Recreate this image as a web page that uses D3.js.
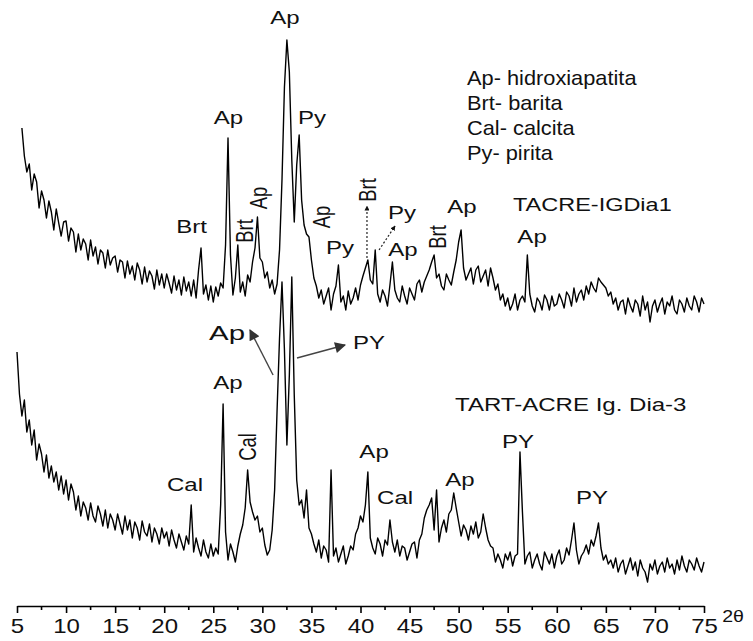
<!DOCTYPE html>
<html>
<head>
<meta charset="utf-8">
<script src="https://d3js.org/d3.v7.min.js"></script>
<style>
  body { margin: 0; background: #fff; }
  text { font-family: "Liberation Sans", Arial, sans-serif; fill: #111; }
  .trace { fill: none; stroke: #000; stroke-width: 1.4px; stroke-linejoin: round; }
  .axis path, .axis line { stroke: #000; stroke-width: 1.6px; }
</style>
</head>
<body>
<div id="chart"></div>
<script>
// 2theta grid of the scans
const step = 0.25;
const topStart = 5.5;     // TACRE-IGDia1
const bottomStart = 5;    // TART-ACRE Ig. Dia-3
const stackOffset = 260;  // vertical shift of the upper pattern (counts)

// intensities (a.u.), one row per 5 degrees
const topCounts = [
  212,184,168,176,150,166,158,132,149,140,122,139,128,110,131,117,104,118,
  119,99,112,108,88,106,90,101,96,80,100,84,93,76,90,87,72,90,75,82,
  84,68,80,78,62,79,66,74,60,77,70,56,73,58,69,64,51,70,55,66,
  52,66,57,47,64,50,60,45,63,49,58,44,60,42,70,92,46,55,40,54,
  38,53,44,57,52,95,202,85,45,62,95,48,58,44,65,58,78,92,123,82,
  78,62,68,52,60,46,56,90,160,253,300,268,180,118,175,205,140,115,106,103,
  80,62,54,42,50,36,44,52,30,46,54,75,38,44,30,49,36,42,52,40,
  55,64,72,80,60,56,90,46,38,50,44,34,55,78,50,42,38,54,44,36,
  52,46,40,56,60,48,58,64,70,78,85,62,66,54,50,66,60,55,68,80,
  98,110,72,60,66,72,56,70,74,58,64,70,54,72,62,50,56,40,46,34,
  42,30,36,46,30,40,44,38,85,46,34,28,42,38,30,45,40,30,44,34,
  36,46,40,32,48,44,34,52,38,46,50,40,54,46,58,52,48,62,58,55,
  52,44,48,36,42,30,38,40,26,42,34,28,40,36,24,44,30,38,18,34,
  40,28,36,42,26,38,34,44,30,26,40,36,28,42,34,30,44,38,28,42,
  36
];

const bottomCounts = [
  248,206,184,200,168,180,155,170,140,156,146,128,145,122,134,118,128,110,124,106,
  120,100,116,108,90,104,84,98,92,80,97,84,78,94,86,74,90,72,86,80,
  70,86,76,66,84,70,80,62,78,72,60,79,68,64,76,58,72,66,56,72,
  62,68,54,70,60,52,66,58,50,64,56,95,48,62,52,44,60,48,42,56,
  44,52,46,95,196,68,40,56,48,38,54,66,75,92,130,98,88,80,84,68,
  72,55,45,50,70,110,190,262,318,250,155,225,323,205,120,95,100,82,110,72,
  66,56,48,60,42,54,50,38,130,44,52,38,46,54,36,44,54,50,66,72,
  84,78,95,128,62,52,46,62,56,44,60,55,80,58,48,60,44,54,52,40,
  48,56,58,42,60,66,82,90,95,102,70,110,58,72,80,68,86,90,107,92,
  78,64,75,70,60,74,66,78,62,68,86,72,60,54,52,38,46,40,32,46,
  40,48,34,44,46,148,88,36,44,48,32,40,46,36,30,48,42,36,46,32,
  44,50,36,40,52,45,60,77,50,36,44,48,55,46,60,54,64,77,52,40,
  45,36,40,32,42,28,36,40,26,34,42,30,38,24,40,32,28,18,36,30,
  40,26,34,38,28,42,32,36,26,40,30,44,34,28,40,36,30,42,34,28,
  38
];

const majorTicks = d3.range(5, 76, 5);
const minorTicks = d3.range(7.5, 75, 5);

const legendLines = ["Ap- hidroxiapatita", "Brt- barita", "Cal- calcita", "Py- pirita"];

// peak labels: [text, 2theta, y px, rotated]
const topLabels = [
  ["Ap", 32.31, 24, false],
  ["Ap", 26.55, 124, false],
  ["Py", 35.06, 124, false],
  ["Brt", 22.78, 233, false],
  ["Brt", 28.13, 231, true],
  ["Ap", 29.56, 198, true],
  ["Ap", 35.98, 217, true],
  ["Py", 37.91, 254, false],
  ["Brt", 40.66, 190, true],
  ["Py", 44.23, 219, false],
  ["Ap", 44.33, 256, false],
  ["Brt", 47.80, 237, true],
  ["Ap", 50.34, 213, false],
  ["Ap", 57.48, 243, false]
];
const bottomLabels = [
  ["PY", 40.87, 349, false],
  ["Ap", 26.50, 389, false],
  ["Cal", 28.44, 447, true],
  ["Cal", 22.12, 491, false],
  ["Ap", 41.38, 458, false],
  ["Cal", 43.52, 504, false],
  ["Ap", 50.14, 486, false],
  ["PY", 56.05, 448, false],
  ["PY", 63.59, 504, false]
];

const width = 753, height = 641;
const x = d3.scaleLinear().domain([5, 75]).range([17, 704]);
const y = d3.scaleLinear().domain([0, 600]).range([600, 0]);

const svg = d3.select('#chart').append('svg')
  .attr('width', width)
  .attr('height', height);

const defs = svg.append('defs');
defs.append('marker').attr('id', 'headSmall')
  .attr('viewBox', '0 0 10 10').attr('refX', 9).attr('refY', 5)
  .attr('markerWidth', 5).attr('markerHeight', 5).attr('markerUnits', 'userSpaceOnUse')
  .attr('orient', 'auto')
  .append('path').attr('d', 'M0,0L10,5L0,10z').attr('fill', '#111');
defs.append('marker').attr('id', 'headBig')
  .attr('viewBox', '0 0 10 10').attr('refX', 9).attr('refY', 5)
  .attr('markerWidth', 14).attr('markerHeight', 11).attr('markerUnits', 'userSpaceOnUse')
  .attr('orient', 'auto')
  .append('path').attr('d', 'M0,0L10,5L0,10z').attr('fill', '#333');

// patterns
function trace(start, counts, offset) {
  return d3.line()
    .x((d, i) => x(start + i * step))
    .y(d => y(d + offset))(counts);
}
svg.append('path').attr('class', 'trace').attr('d', trace(topStart, topCounts, stackOffset));
svg.append('path').attr('class', 'trace').attr('d', trace(bottomStart, bottomCounts, 0));

// axis
const axisY = 606;
const axis = svg.append('g').attr('class', 'axis')
  .attr('transform', `translate(0,${axisY})`)
  .call(d3.axisBottom(x).tickValues(majorTicks).tickSize(7).tickSizeOuter(0).tickPadding(6));
axis.selectAll('text')
  .style('font-size', '20px')
  .attr('fill', '#111')
  .attr('transform', 'scale(1.2,1)');
axis.selectAll('.minor').data(minorTicks).enter().append('line')
  .attr('class', 'minor')
  .attr('x1', d => x(d)).attr('x2', d => x(d))
  .attr('y1', 0).attr('y2', 4)
  .attr('stroke', '#000').attr('stroke-width', 1.6);
svg.append('text')
  .attr('transform', `translate(${x(75) + 29},${axisY + 16}) scale(1.15,1)`)
  .attr('text-anchor', 'middle')
  .style('font-size', '17px')
  .text('2θ');

// text helper: horizontally stretched like the original figure
function label(txt, px, py, opt) {
  const o = Object.assign({ size: 18.5, sx: 1.3, rot: false, anchor: 'middle', fill: '#111' }, opt);
  svg.append('text')
    .attr('transform', `translate(${px},${py}) scale(${o.sx},1)` + (o.rot ? ' rotate(-90)' : ''))
    .attr('text-anchor', o.anchor)
    .attr('dy', o.rot ? '0.36em' : 0)
    .attr('fill', o.fill)
    .style('font-size', o.size + 'px')
    .text(txt);
}

topLabels.concat(bottomLabels).forEach(d => label(d[0], x(d[1]), d[2], { rot: d[3] }));

label('TACRE-IGDia1', x(55.54), 211, { anchor: 'start', sx: 1.27 });
label('TART-ACRE Ig. Dia-3', x(49.63), 411, { anchor: 'start', sx: 1.3 });
label('Ap', x(26.40), 340, { size: 21, sx: 1.4 });

legendLines.forEach((t, i) => label(t, x(50.85), 85 + i * 25, { anchor: 'start', size: 20, sx: 1.09, fill: '#2a2a2a' }));

// arrows
svg.append('line')
  .attr('x1', x(40.66)).attr('y1', 258).attr('x2', x(40.66)).attr('y2', 206)
  .attr('stroke', '#222').attr('stroke-width', 1.2).attr('stroke-dasharray', '2,2')
  .attr('marker-end', 'url(#headSmall)');
svg.append('line')
  .attr('x1', x(41.89)).attr('y1', 250).attr('x2', x(43.52)).attr('y2', 226)
  .attr('stroke', '#222').attr('stroke-width', 1.2).attr('stroke-dasharray', '2,2')
  .attr('marker-end', 'url(#headSmall)');
svg.append('line')
  .attr('x1', x(31.09)).attr('y1', 375).attr('x2', x(28.74)).attr('y2', 330)
  .attr('stroke', '#444').attr('stroke-width', 1.4)
  .attr('marker-end', 'url(#headBig)');
svg.append('line')
  .attr('x1', x(33.53)).attr('y1', 358).attr('x2', x(38.42)).attr('y2', 345)
  .attr('stroke', '#444').attr('stroke-width', 1.4)
  .attr('marker-end', 'url(#headBig)');
</script>
</body>
</html>
